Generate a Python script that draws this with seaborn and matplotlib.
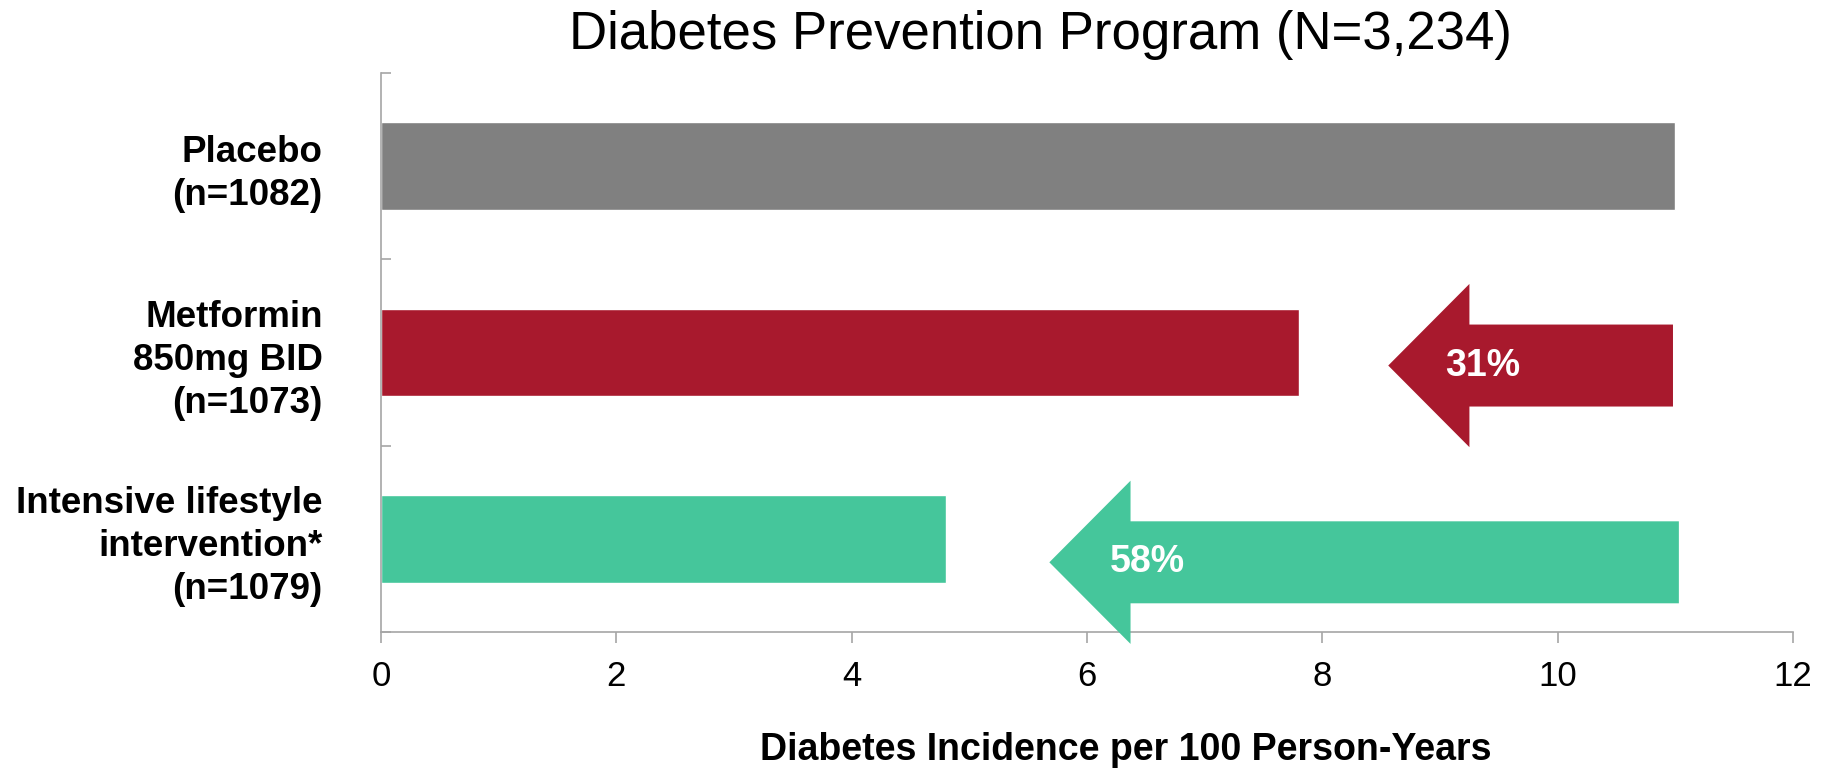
import matplotlib
matplotlib.use("Agg")
import matplotlib.pyplot as plt
from matplotlib.ticker import FixedLocator
import seaborn as sns
import pandas as pd

# ---- data ----
categories = ["Placebo\n(n=1082)", "Metformin\n850mg BID\n(n=1073)",
              "Intensive lifestyle\nintervention*\n(n=1079)"]
incidence = [11.0, 7.8, 4.8]
bar_colors = ["#808080", "#A8192D", "#45C69B"]
title = "Diabetes Prevention Program (N=3,234)"
xlabel = "Diabetes Incidence per 100 Person-Years"
x_ticks = [0, 2, 4, 6, 8, 10, 12]

# reduction arrows (annotation shapes)
reduction_labels = ["31%", "58%"]
arrow_rows = [1.07, 2.126]          # vertical centre, in category units
arrow_tail = [10.98, 11.03]
arrow_tip = [8.56, 5.68]
arrow_label_x = [9.36, 6.51]
arrow_colors = ["#A8192D", "#45C69B"]

sns.set_theme(style="white")
plt.rcParams["font.family"] = ["Liberation Sans", "DejaVu Sans"]

fig = plt.figure(figsize=(18.23, 7.69), dpi=100)
ax = fig.add_axes([381 / 1823, 1 - 632 / 769, 1412 / 1823, 559 / 769])

df = pd.DataFrame({"cat": categories, "val": incidence})
sns.barplot(data=df, x="val", y="cat", hue="cat", palette=bar_colors,
            orient="h", width=0.47, legend=False, ax=ax, saturation=1)

ax.set_xlim(0, 12)
ax.set_ylim(2.5, -0.5)
ax.xaxis.set_major_locator(FixedLocator(x_ticks))
ax.set_xticklabels([str(t) for t in x_ticks])

# spines
for s in ["top", "right"]:
    ax.spines[s].set_visible(False)
for s in ["left", "bottom"]:
    ax.spines[s].set_color("#A6A6A6")
    ax.spines[s].set_linewidth(1.2)

# ticks
ax.tick_params(axis="x", which="major", direction="out", length=8, width=1.2,
               color="#A6A6A6", labelsize=25, pad=12, labelcolor="black",
               bottom=True)
ax.tick_params(axis="y", which="major", length=0, pad=42, labelsize=26.5,
               labelcolor="black", left=True)
ax.yaxis.set_minor_locator(FixedLocator([-0.5, 0.5, 1.5, 2.5]))
ax.tick_params(axis="y", which="minor", direction="in", length=7.5, width=1.2,
               color="#A6A6A6", left=True)
for lab in ax.get_yticklabels():
    lab.set_fontweight("bold")
    lab.set_linespacing(1.3)
    lab.set_multialignment("right")

ax.set_ylabel("")
ax.set_xlabel(xlabel, fontsize=27, fontweight="bold", color="black")
ax.xaxis.label.set_va("center")
ax.xaxis.set_label_coords((1126 - 381) / 1412, (632 - 750) / 559)

# arrows
for lab, yc, xt, xh, lx, c in zip(reduction_labels, arrow_rows, arrow_tail,
                                   arrow_tip, arrow_label_x, arrow_colors):
    ax.arrow(xt, yc, xh - xt, 0, width=0.44, head_width=0.876,
             head_length=0.69, length_includes_head=True, color=c,
             linewidth=0, clip_on=False, zorder=3)
    ax.text(lx, yc, lab, color="white", fontsize=27, fontweight="bold",
            ha="center", va="center", zorder=4)

fig.text(1040 / 1823, 1 - 35 / 769, title, fontsize=38, ha="center",
         va="center", color="black")

fig.savefig("out.png", dpi=100, facecolor="white")
